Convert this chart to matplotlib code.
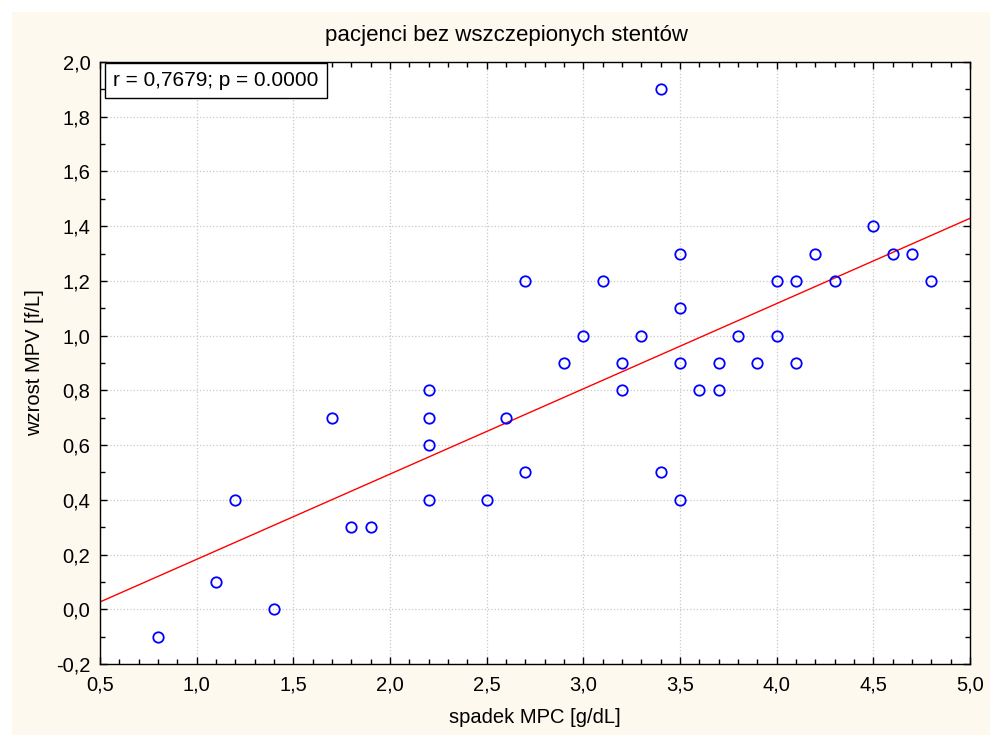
import numpy as np
import matplotlib
matplotlib.use("Agg")
import matplotlib.pyplot as plt
from matplotlib.patches import Rectangle
from matplotlib.ticker import MultipleLocator, FuncFormatter

plt.rcParams['font.family'] = ['Liberation Sans', 'DejaVu Sans']

# spadek MPC [g/dL] vs wzrost MPV [f/L]
spadek_mpc = [0.8, 1.1, 1.2, 1.4, 1.7, 1.8, 1.9,
              2.2, 2.2, 2.2, 2.2, 2.5, 2.6, 2.7, 2.7, 2.9,
              3.0, 3.1, 3.2, 3.2, 3.3, 3.4, 3.4,
              3.5, 3.5, 3.5, 3.5, 3.6, 3.7, 3.7, 3.8, 3.9,
              4.0, 4.0, 4.1, 4.1, 4.2, 4.3, 4.5, 4.6, 4.7, 4.8]
wzrost_mpv = [-0.1, 0.1, 0.4, 0.0, 0.7, 0.3, 0.3,
              0.8, 0.7, 0.6, 0.4, 0.4, 0.7, 1.2, 0.5, 0.9,
              1.0, 1.2, 0.9, 0.8, 1.0, 1.9, 0.5,
              1.3, 1.1, 0.9, 0.4, 0.8, 0.9, 0.8, 1.0, 0.9,
              1.2, 1.0, 1.2, 0.9, 1.3, 1.2, 1.4, 1.3, 1.3, 1.2]

title = "pacjenci bez wszczepionych stentów"
stat_text = "r = 0,7679; p = 0.0000"

x = np.array(spadek_mpc)
y = np.array(wzrost_mpv)
slope, intercept = np.polyfit(x, y, 1)

fig = plt.figure(figsize=(9.9, 7.35), dpi=100, facecolor="white")
# cream panel behind the chart, leaving a thin white margin top/left
fig.patches.append(Rectangle((12 / 990, 0), 1 - 12 / 990, (735 - 12) / 735,
                             transform=fig.transFigure, facecolor="#FEF9EE",
                             edgecolor="none", zorder=-1))

ax = fig.add_axes([100 / 990, (735 - 664) / 735, 870 / 990, 602 / 735])
ax.set_facecolor("white")

xx = np.linspace(0.5, 5.0, 50)
ax.plot(xx, intercept + slope * xx, color="red", lw=1.0, zorder=2)
ax.plot(x, y, linestyle="none", marker="o", markersize=7.5,
        markerfacecolor="none", markeredgecolor="#0000FF",
        markeredgewidth=1.3, zorder=3)

ax.set_xlim(0.5, 5.0)
ax.set_ylim(-0.2, 2.0)
ax.xaxis.set_major_locator(MultipleLocator(0.5))
ax.xaxis.set_minor_locator(MultipleLocator(0.1))
ax.yaxis.set_major_locator(MultipleLocator(0.2))
ax.yaxis.set_minor_locator(MultipleLocator(0.1))
comma = FuncFormatter(lambda v, pos: f"{v:.1f}".replace(".", ","))
ax.xaxis.set_major_formatter(comma)
ax.yaxis.set_major_formatter(comma)

ax.tick_params(which="both", direction="in", top=True, right=True,
               labelsize=14.5, colors="black")
ax.tick_params(which="major", length=5, width=1)
ax.tick_params(which="minor", length=3.5, width=1)
ax.tick_params(axis="y", which="major", pad=7)
ax.tick_params(axis="x", which="major", pad=8)

ax.grid(True, which="major", color="#C8C8C8", linestyle=":", lw=0.9)
for s in ax.spines.values():
    s.set_linewidth(1.0)
    s.set_color("black")

fig.text(100 / 990 + 435 / 990, 8 / 735, "spadek MPC [g/dL]", ha="center",
         va="bottom", fontsize=14.5)
fig.text(35 / 990, 1 - 363 / 735, "wzrost MPV [f/L]", ha="center",
         va="center", rotation=90, fontsize=14.5)
fig.text(507 / 990, 1 - 35 / 735, title, ha="center", va="center",
         fontsize=16)

ax.text(0.015, 0.985, stat_text, transform=ax.transAxes, ha="left", va="top",
        fontsize=15,
        bbox=dict(boxstyle="square,pad=0.4", facecolor="white",
                  edgecolor="black", lw=1))

fig.savefig("out.png", dpi=100, facecolor=fig.get_facecolor())
